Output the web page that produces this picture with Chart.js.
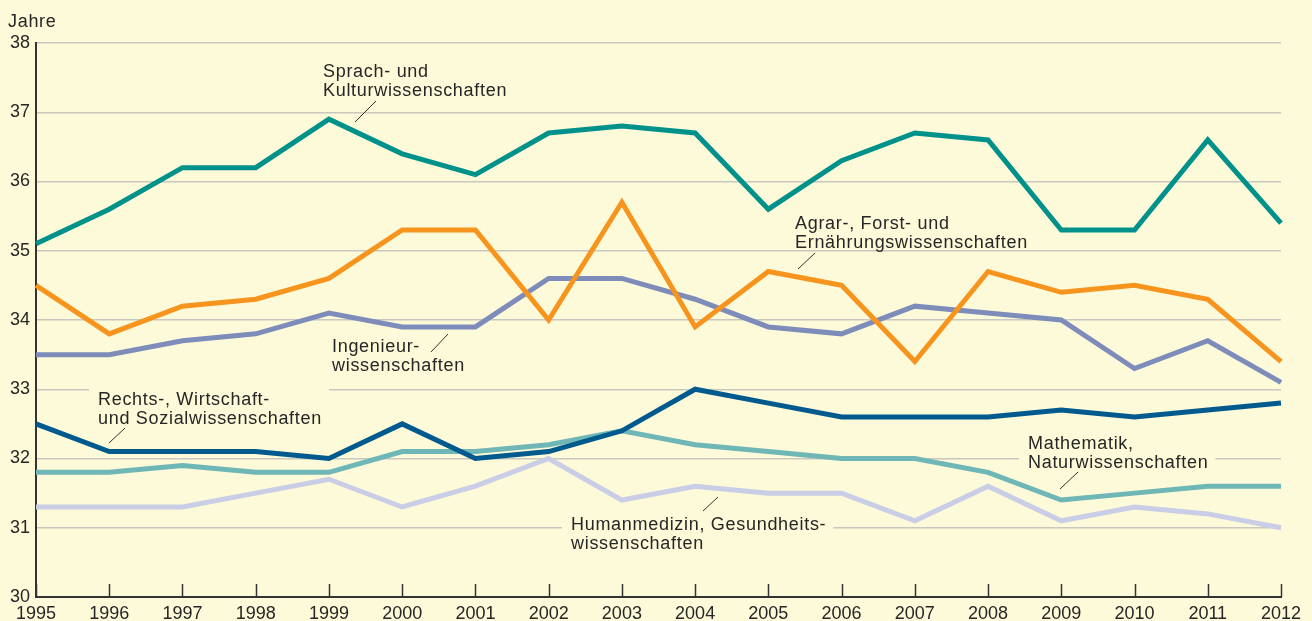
<!DOCTYPE html>
<html>
<head>
<meta charset="utf-8">
<script src="https://cdn.jsdelivr.net/npm/chart.js@4"></script>
<style>
  html, body { margin: 0; padding: 0; background: #FDFAD9; }
  canvas { display: block; }
</style>
</head>
<body>
<canvas id="grafica" width="1312" height="621"></canvas>
<script>
// Daten: Durchschnittsalter (Jahre)
const jahre = ["1995","1996","1997","1998","1999","2000","2001","2002","2003","2004","2005","2006","2007","2008","2009","2010","2011","2012"];
const yTicks = [30, 31, 32, 33, 34, 35, 36, 37, 38];

const sprachKultur = [35.1, 35.6, 36.2, 36.2, 36.9, 36.4, 36.1, 36.7, 36.8, 36.7, 35.6, 36.3, 36.7, 36.6, 35.3, 35.3, 36.6, 35.4];
const agrarForst   = [34.5, 33.8, 34.2, 34.3, 34.6, 35.3, 35.3, 34.0, 35.7, 33.9, 34.7, 34.5, 33.4, 34.7, 34.4, 34.5, 34.3, 33.4];
const ingenieur    = [33.5, 33.5, 33.7, 33.8, 34.1, 33.9, 33.9, 34.6, 34.6, 34.3, 33.9, 33.8, 34.2, 34.1, 34.0, 33.3, 33.7, 33.1];
const rechtsWiSo   = [32.5, 32.1, 32.1, 32.1, 32.0, 32.5, 32.0, 32.1, 32.4, 33.0, 32.8, 32.6, 32.6, 32.6, 32.7, 32.6, 32.7, 32.8];
const mathNatur    = [31.8, 31.8, 31.9, 31.8, 31.8, 32.1, 32.1, 32.2, 32.4, 32.2, 32.1, 32.0, 32.0, 31.8, 31.4, 31.5, 31.6, 31.6];
const humanmedizin = [31.3, 31.3, 31.3, 31.5, 31.7, 31.3, 31.6, 32.0, 31.4, 31.6, 31.5, 31.5, 31.1, 31.6, 31.1, 31.3, 31.2, 31.0];

const hintergrund = "#FDFAD9";
const textFarbe = "#262626";
const schrift = '18px "Liberation Sans", Arial, sans-serif';

// Beschriftungen im Diagramm (Pixelposition, Zeilen, Hinweisstrich, Gitter abdecken?)
const beschriftungen = [
  { x: 323, y: 77,  zeilen: ["Sprach- und", "Kulturwissenschaften"], strich: [355, 122, 376, 101], abdecken: false },
  { x: 795, y: 229, zeilen: ["Agrar-, Forst- und", "Ernährungswissenschaften"], strich: [798, 269, 815, 253], abdecken: false },
  { x: 332, y: 352, zeilen: ["Ingenieur-", "wissenschaften"], strich: [431, 352, 448, 334], abdecken: false },
  { x: 98,  y: 405, zeilen: ["Rechts-, Wirtschaft-", "und Sozialwissenschaften"], strich: [109, 443, 125, 428], abdecken: true },
  { x: 1028, y: 449, zeilen: ["Mathematik,", "Naturwissenschaften"], strich: [1060, 489, 1078, 472], abdecken: true },
  { x: 571, y: 530, zeilen: ["Humanmedizin, Gesundheits-", "wissenschaften"], strich: [703, 511, 718, 497], abdecken: true }
];

function serie(daten, farbe) {
  return {
    data: daten,
    borderColor: farbe,
    borderWidth: 5,
    pointRadius: 0,
    tension: 0,
    fill: false,
    borderJoinStyle: "miter",
    borderCapStyle: "butt"
  };
}

const hintergrundPlugin = {
  id: "hintergrund",
  beforeDraw(chart) {
    const ctx = chart.ctx;
    ctx.save();
    ctx.fillStyle = hintergrund;
    ctx.fillRect(0, 0, chart.width, chart.height);
    ctx.restore();
  }
};

const textPlugin = {
  id: "texte",
  beforeDatasetsDraw(chart) {
    const ctx = chart.ctx;
    ctx.save();
    ctx.font = schrift;
    ctx.letterSpacing = "0.7px";
    // Gitterlinien hinter den Beschriftungen abdecken
    beschriftungen.forEach(b => {
      if (!b.abdecken) return;
      const breite = Math.max(...b.zeilen.map(z => ctx.measureText(z).width));
      ctx.fillStyle = hintergrund;
      ctx.fillRect(b.x - 9, b.y - 16, breite + 16, b.zeilen.length * 19 + 4);
    });
    // Teilstriche an der x-Achse (nach innen)
    const xs = chart.scales.x;
    const unten = chart.chartArea.bottom;
    ctx.strokeStyle = "#333";
    ctx.lineWidth = 1.5;
    jahre.forEach((j, i) => {
      const px = Math.round(xs.getPixelForValue(i)) + 0.5;
      ctx.beginPath();
      ctx.moveTo(px, unten);
      ctx.lineTo(px, unten - 13);
      ctx.stroke();
    });
    ctx.restore();
  },
  afterDatasetsDraw(chart) {
    const ctx = chart.ctx;
    ctx.save();
    ctx.font = schrift;
    ctx.letterSpacing = "0.7px";
    ctx.fillStyle = textFarbe;
    ctx.textAlign = "left";
    ctx.textBaseline = "alphabetic";
    beschriftungen.forEach(b => {
      b.zeilen.forEach((z, k) => ctx.fillText(z, b.x, b.y + k * 19));
      ctx.strokeStyle = "#333";
      ctx.lineWidth = 1;
      ctx.beginPath();
      ctx.moveTo(b.strich[0], b.strich[1]);
      ctx.lineTo(b.strich[2], b.strich[3]);
      ctx.stroke();
    });
    ctx.fillText("Jahre", 8, 27);
    ctx.restore();
  }
};

const grafica = document.getElementById("grafica").getContext("2d");
new Chart(grafica, {
  type: "line",
  data: {
    labels: jahre,
    datasets: [
      serie(sprachKultur, "#00918B"),
      serie(agrarForst, "#F7941E"),
      serie(ingenieur, "#7E8CB9"),
      serie(rechtsWiSo, "#005A8E"),
      serie(mathNatur, "#6FB6B6"),
      serie(humanmedizin, "#C9CDE6")
    ]
  },
  options: {
    responsive: false,
    devicePixelRatio: 1,
    animation: false,
    layout: { padding: { top: 43, right: 31, left: 0, bottom: 0 } },
    plugins: {
      legend: { display: false },
      tooltip: { enabled: false },
      title: { display: false }
    },
    scales: {
      x: {
        type: "category",
        offset: false,
        grid: { display: false, drawTicks: false },
        border: { display: true, color: "#333", width: 2 },
        ticks: {
          color: textFarbe,
          font: { family: '"Liberation Sans", Arial, sans-serif', size: 18 },
          padding: 6,
          maxRotation: 0,
          autoSkip: false
        },
        afterFit(s) { s.height = 24; }
      },
      y: {
        min: 30,
        max: 38,
        afterBuildTicks(s) { s.ticks = yTicks.map(v => ({ value: v })); },
        grid: { color: "#C9C8C0", lineWidth: 1.5, drawTicks: false },
        border: { display: true, color: "#333", width: 2 },
        ticks: {
          color: textFarbe,
          font: { family: '"Liberation Sans", Arial, sans-serif', size: 18 },
          padding: 6
        },
        afterFit(s) { s.width = 36; }
      }
    }
  },
  plugins: [hintergrundPlugin, textPlugin]
});
</script>
</body>
</html>
